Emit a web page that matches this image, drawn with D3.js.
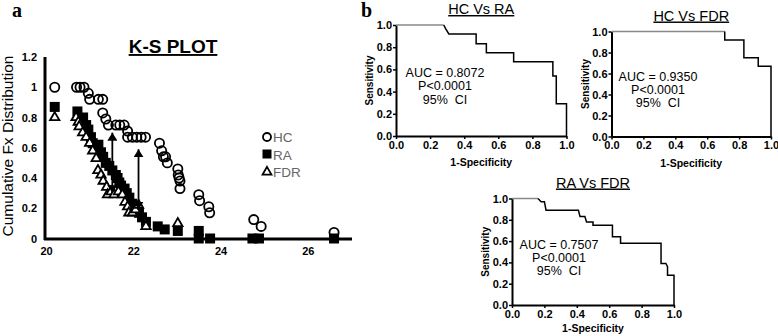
<!DOCTYPE html>
<html>
<head>
<meta charset="utf-8">
<script src="https://cdn.jsdelivr.net/npm/d3@7"></script>
<style>
body { margin: 0; background: #fff; }
svg text { font-family: Arial, "Liberation Sans", sans-serif; }
</style>
</head>
<body>
<div id="chart"></div>
<script>
// K-S plot data: [Ct value, cumulative fraction]
const hcPoints = [
    [20.2, 1], [20.7, 1], [20.78, 1], [20.87, 1], [20.97, 0.96], [21.0, 0.92],
    [21.2, 0.92], [21.3, 0.92], [21.3, 0.83], [21.37, 0.79], [21.43, 0.75],
    [21.6, 0.75], [21.69, 0.75], [21.79, 0.75], [21.87, 0.71], [21.87, 0.67],
    [21.98, 0.67], [22.08, 0.67], [22.18, 0.67], [22.28, 0.67], [22.6, 0.63],
    [22.65, 0.58], [22.69, 0.54], [22.74, 0.54], [22.78, 0.5], [23.02, 0.46],
    [23.03, 0.42], [23.05, 0.4], [23.07, 0.38], [23.07, 0.33], [23.5, 0.29],
    [23.52, 0.25], [23.73, 0.21], [23.75, 0.17], [24.76, 0.125], [24.93, 0.08],
    [26.6, 0.04]
];
const raPoints = [
    [20.2, 0.87], [20.72, 0.84], [20.85, 0.8], [20.92, 0.75], [20.97, 0.72],
    [21.03, 0.67], [21.07, 0.63], [21.15, 0.61], [21.2, 0.62], [21.26, 0.57],
    [21.31, 0.54], [21.37, 0.5], [21.45, 0.48], [21.52, 0.45], [21.6, 0.42],
    [21.64, 0.4], [21.68, 0.37], [21.72, 0.35], [21.8, 0.33], [21.85, 0.3],
    [21.91, 0.27], [21.97, 0.23], [22.03, 0.2], [22.13, 0.17], [22.2, 0.14],
    [22.29, 0.11], [22.56, 0.08], [22.72, 0.06], [23.02, 0.05], [23.5, 0.05],
    [23.5, 0], [23.76, 0], [24.73, 0], [24.88, 0], [26.6, 0]
];
const fdrPoints = [
    [20.2, 0.8], [20.69, 0.8], [20.74, 0.77], [20.76, 0.74], [20.84, 0.7],
    [20.92, 0.67], [21.0, 0.63], [21.07, 0.58], [21.15, 0.53], [21.19, 0.45],
    [21.26, 0.42], [21.31, 0.38], [21.39, 0.34], [21.41, 0.29], [21.49, 0.31],
    [21.56, 0.29], [21.66, 0.31], [21.75, 0.29], [21.81, 0.24], [21.87, 0.21],
    [21.9, 0.17], [21.98, 0.17], [22.05, 0.19], [22.12, 0.22], [22.29, 0.08],
    [23.02, 0.1]
];
const ksArrows = [
    {x: 21.52, from: 0.3, to: 0.7},
    {x: 22.12, from: 0.19, to: 0.59}
];
const ksXTicks = [20, 22, 24, 26];
const ksYTicks = [0, 0.2, 0.4, 0.6, 0.8, 1, 1.2];
const legendItems = ["HC", "RA", "FDR"];

// ROC curves: [1-specificity, sensitivity]
const rocHcRa = [
    [0, 1], [0.28, 1], [0.29, 0.97], [0.31, 0.92], [0.47, 0.92], [0.47, 0.83],
    [0.53, 0.83], [0.53, 0.75], [0.69, 0.75], [0.69, 0.67], [0.92, 0.67],
    [0.92, 0.54], [0.94, 0.54], [0.94, 0.29], [1, 0.29], [1, 0]
];
const rocHcFdr = [
    [0, 1], [0.71, 1], [0.71, 0.92], [0.83, 0.92], [0.83, 0.75], [0.92, 0.75],
    [0.92, 0.67], [1, 0.67], [1, 0]
];
const rocRaFdr = [
    [0, 1], [0.16, 1], [0.18, 0.97], [0.2, 0.97], [0.21, 0.89], [0.41, 0.89],
    [0.42, 0.83], [0.45, 0.83], [0.46, 0.78], [0.5, 0.78], [0.5, 0.75],
    [0.62, 0.75], [0.62, 0.64], [0.67, 0.64], [0.67, 0.58], [0.92, 0.58],
    [0.92, 0.39], [0.95, 0.39], [0.96, 0.36], [0.96, 0.28], [1, 0.28], [1, 0]
];
const rocTicks = [0, 0.2, 0.4, 0.6, 0.8, 1.0];
const rocStats = [
    ["AUC = 0.8072", "P<0.0001", "95%  CI"],
    ["AUC = 0.9350", "P<0.0001", "95%  CI"],
    ["AUC = 0.7507", "P<0.0001", "95%  CI"]
];

const svg = d3.select("#chart")
    .append("svg")
    .attr("width", 778)
    .attr("height", 336);

svg.append("defs").append("marker")
    .attr("id", "head")
    .attr("viewBox", "0 0 8 10")
    .attr("refX", 8)
    .attr("refY", 5)
    .attr("markerWidth", 8)
    .attr("markerHeight", 10)
    .attr("markerUnits", "userSpaceOnUse")
    .attr("orient", "auto-start-reverse")
    .append("path")
    .attr("d", "M0,0L8,5L0,10Z")
    .attr("fill", "#000");

// panel letters
svg.append("text").attr("x", 12).attr("y", 17)
    .style("font-family", "'Liberation Serif', 'Times New Roman', serif")
    .style("font-weight", "bold").style("font-size", "20px").text("a");
svg.append("text").attr("x", 361).attr("y", 17)
    .style("font-family", "'Liberation Serif', 'Times New Roman', serif")
    .style("font-weight", "bold").style("font-size", "20px").text("b");

// ---- panel a: K-S plot
const x = d3.scaleLinear().domain([20, 27]).range([46, 351.5]);
const y = d3.scaleLinear().domain([0, 1.2]).range([238.5, 57]);

const xAxis = svg.append("g")
    .attr("transform", "translate(0,239)")
    .call(d3.axisBottom(x).tickValues(ksXTicks).tickSize(0).tickSizeOuter(0).tickPadding(8)
        .tickFormat(d3.format("d")));
xAxis.select(".domain").attr("stroke-width", 3).attr("d", "M44,0H352");

const yAxis = svg.append("g")
    .attr("transform", "translate(45,0)")
    .call(d3.axisLeft(y).tickValues(ksYTicks).tickSize(0).tickSizeOuter(0).tickPadding(8)
        .tickFormat(d => String(+d.toFixed(1))));
yAxis.select(".domain").attr("stroke-width", 3).attr("d", "M0,57V240");

svg.selectAll(".tick text")
    .style("font-family", "Arial, 'Liberation Sans', sans-serif")
    .style("font-weight", "bold")
    .style("font-size", "11px")
    .attr("fill", "#000");

svg.append("text")
    .attr("transform", "translate(13,146) rotate(-90)")
    .attr("text-anchor", "middle")
    .style("font-size", "15.5px")
    .text("Cumulative Fx Distribution");

svg.append("text")
    .attr("x", 173).attr("y", 53)
    .attr("text-anchor", "middle")
    .style("font-size", "19px")
    .style("font-weight", "bold")
    .style("text-decoration", "underline")
    .text("K-S PLOT");

svg.selectAll(".hc")
    .data(hcPoints)
    .enter().append("circle")
    .attr("class", "hc")
    .attr("cx", d => x(d[0]))
    .attr("cy", d => y(d[1]))
    .attr("r", 4.6)
    .attr("fill", "none")
    .attr("stroke", "#000")
    .attr("stroke-width", 1.8);

svg.selectAll(".ra")
    .data(raPoints)
    .enter().append("rect")
    .attr("class", "ra")
    .attr("x", d => x(d[0]) - 5)
    .attr("y", d => y(d[1]) - 5)
    .attr("width", 10)
    .attr("height", 10)
    .attr("fill", "#000");

const tri = d3.symbol().type(d3.symbolTriangle).size(38);
svg.selectAll(".fdr")
    .data(fdrPoints)
    .enter().append("path")
    .attr("class", "fdr")
    .attr("transform", d => `translate(${x(d[0])},${y(d[1])})`)
    .attr("d", tri)
    .attr("fill", "#fff")
    .attr("stroke", "#000")
    .attr("stroke-width", 1.8);

svg.selectAll(".ksarrow")
    .data(ksArrows)
    .enter().append("line")
    .attr("class", "ksarrow")
    .attr("x1", d => x(d.x))
    .attr("x2", d => x(d.x))
    .attr("y1", d => y(d.from))
    .attr("y2", d => y(d.to))
    .attr("stroke", "#000")
    .attr("stroke-width", 1.8)
    .attr("marker-start", "url(#head)")
    .attr("marker-end", "url(#head)");

// legend
const legend = svg.append("g").attr("transform", "translate(267,137)");
legend.append("circle").attr("cx", 0).attr("cy", 0).attr("r", 4)
    .attr("fill", "none").attr("stroke", "#000").attr("stroke-width", 1.8);
legend.append("rect").attr("x", -4.5).attr("y", 12.5).attr("width", 9).attr("height", 9)
    .attr("fill", "#000");
legend.append("path").attr("transform", "translate(0,35)")
    .attr("d", d3.symbol().type(d3.symbolTriangle).size(34))
    .attr("fill", "#fff").attr("stroke", "#000").attr("stroke-width", 1.8);
legend.selectAll(".legtext")
    .data(legendItems)
    .enter().append("text")
    .attr("x", 6)
    .attr("y", (d, i) => i * 17.5 + 5)
    .attr("fill", "#666")
    .style("font-size", "13.5px")
    .text(d => d);

// ---- panel b: ROC curves
function drawRoc(data, stats, title, left, right, top, bottom, statsX, labelGap) {
    const rx = d3.scaleLinear().domain([0, 1]).range([left, right]);
    const ry = d3.scaleLinear().domain([0, 1]).range([bottom, top]);
    const g = svg.append("g");

    const ax = g.append("g")
        .attr("transform", `translate(0,${bottom})`)
        .call(d3.axisBottom(rx).tickValues(rocTicks).tickSize(3).tickSizeOuter(0)
            .tickPadding(2).tickFormat(d3.format(".1f")));
    const ay = g.append("g")
        .attr("transform", `translate(${left},0)`)
        .call(d3.axisLeft(ry).tickValues(rocTicks).tickSize(3).tickSizeOuter(0)
            .tickPadding(1).tickFormat(d3.format(".1f")));
    [ax, ay].forEach(a => {
        a.select(".domain").attr("stroke-width", 2);
        a.selectAll(".tick line").attr("stroke-width", 1.5);
        a.selectAll(".tick text")
            .style("font-family", "Arial, 'Liberation Sans', sans-serif")
            .style("font-weight", "bold")
            .style("font-size", "11px")
            .attr("fill", "#000");
    });

    const line = d3.line()
        .x(d => rx(d[0]))
        .y(d => ry(d[1]));
    // the part of the curve at full sensitivity is printed grey in the source
    g.append("path")
        .datum(data.filter(d => d[1] === 1))
        .attr("fill", "none")
        .attr("stroke", "#888")
        .attr("stroke-width", 1.5)
        .attr("d", line);
    g.append("path")
        .datum(data.slice(data.filter(d => d[1] === 1).length - 1))
        .attr("fill", "none")
        .attr("stroke", "#000")
        .attr("stroke-width", 1.5)
        .attr("d", line);

    const mid = (left + right) / 2;
    g.append("text")
        .attr("x", mid).attr("y", top - 11)
        .attr("text-anchor", "middle")
        .style("font-size", "14.5px")
        .style("text-decoration", "underline")
        .text(title);
    g.append("text")
        .attr("x", mid).attr("y", bottom + labelGap)
        .attr("text-anchor", "middle")
        .style("font-size", "10.5px")
        .style("font-weight", "bold")
        .text("1-Specificity");
    g.append("text")
        .attr("transform", `translate(${left - 23},${(top + bottom) / 2}) rotate(-90)`)
        .attr("text-anchor", "middle")
        .style("font-size", "10px")
        .style("font-weight", "bold")
        .text("Sensitivity");
    g.selectAll(".stat")
        .data(stats)
        .enter().append("text")
        .attr("x", statsX)
        .attr("y", (d, i) => ry(0.53) + i * 13.3)
        .attr("text-anchor", "middle")
        .style("font-size", "12.5px")
        .style("white-space", "pre")
        .text(d => d);
}

drawRoc(rocHcRa, rocStats[0], "HC Vs RA", 396, 566.5, 25, 136, 445, 30);
drawRoc(rocHcFdr, rocStats[1], "HC Vs FDR", 611.5, 771, 31.5, 136.5, 658, 30);
drawRoc(rocRaFdr, rocStats[2], "RA Vs FDR", 512, 674, 198.5, 305, 559, 27);
</script>
</body>
</html>
